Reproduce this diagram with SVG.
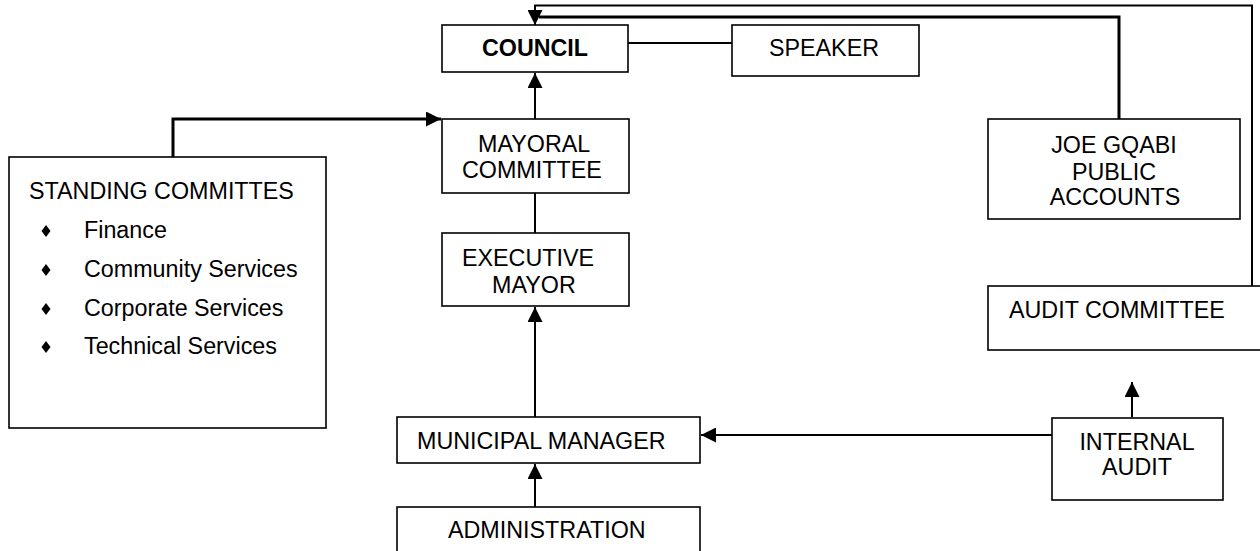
<svg xmlns="http://www.w3.org/2000/svg" width="1260" height="551" viewBox="0 0 1260 551">
<style>
.box{fill:#fff;stroke:#000;stroke-width:1.6}
text{font-family:"Liberation Sans",Arial,sans-serif;font-size:23.3px;fill:#000}
.c{text-anchor:middle}
.b{font-weight:bold}
.ln{fill:none;stroke:#000;stroke-width:2}
.thk{fill:none;stroke:#000;stroke-width:3}
</style>
<defs>
<marker id="ah" viewBox="0 0 15 15" refX="15" refY="7.5" markerWidth="15" markerHeight="15" markerUnits="userSpaceOnUse" orient="auto">
<path d="M0,0 L15,7.5 L0,15 z" fill="#000"/>
</marker>
</defs>
<rect width="1260" height="551" fill="#fff"/>
<g id="connectors">
<path class="ln" d="M1252,286 V5.5 H535 V25" marker-end="url(#ah)"/>
<path class="thk" d="M1119,119 V17 H539"/>
<line class="ln" x1="628" y1="43" x2="732" y2="43"/>
<line class="ln" x1="535" y1="119" x2="535" y2="73" marker-end="url(#ah)"/>
<path class="thk" d="M173,157 V119 H441" marker-end="url(#ah)"/>
<line class="ln" x1="535" y1="193" x2="535" y2="233"/>
<line class="ln" x1="535" y1="417" x2="535" y2="307" marker-end="url(#ah)"/>
<line class="ln" x1="535" y1="507" x2="535" y2="464" marker-end="url(#ah)"/>
<line class="ln" x1="1052" y1="435" x2="701" y2="435" marker-end="url(#ah)"/>
<line class="ln" x1="1132" y1="417" x2="1132" y2="382" marker-end="url(#ah)"/>
</g>
<g id="council">
<rect class="box" x="442" y="25" width="186" height="47"/>
<text class="c b" x="535" y="56">COUNCIL</text>
</g>
<g id="speaker">
<rect class="box" x="732" y="25" width="187" height="51"/>
<text class="c" x="824" y="56">SPEAKER</text>
</g>
<g id="mayoral-committee">
<rect class="box" x="442" y="119" width="187" height="74"/>
<text x="478" y="152">MAYORAL</text>
<text x="462" y="178">COMMITTEE</text>
</g>
<g id="executive-mayor">
<rect class="box" x="442" y="233" width="187" height="73"/>
<text x="462" y="266">EXECUTIVE</text>
<text x="492" y="293">MAYOR</text>
</g>
<g id="standing-committes">
<rect class="box" x="9" y="157" width="317" height="271"/>
<text x="29" y="199">STANDING COMMITTES</text>
<polygon points="46,225 50.5,231 46,237 41.5,231" fill="#000"/>
<text x="84" y="238">Finance</text>
<polygon points="46,264 50.5,270 46,276 41.5,270" fill="#000"/>
<text x="84" y="277">Community Services</text>
<polygon points="46,303 50.5,309 46,315 41.5,309" fill="#000"/>
<text x="84" y="316">Corporate Services</text>
<polygon points="46,341 50.5,347 46,353 41.5,347" fill="#000"/>
<text x="84" y="354">Technical Services</text>
</g>
<g id="municipal-manager">
<rect class="box" x="397" y="417" width="303" height="46"/>
<text x="417" y="449">MUNICIPAL MANAGER</text>
</g>
<g id="administration">
<rect class="box" x="397" y="507" width="303" height="60"/>
<text x="448" y="538">ADMINISTRATION</text>
</g>
<g id="joe-gqabi-public-accounts">
<rect class="box" x="988" y="119" width="252" height="100"/>
<text class="c" x="1114" y="153">JOE GQABI</text>
<text class="c" x="1114" y="180">PUBLIC</text>
<text class="c" x="1115" y="205">ACCOUNTS</text>
</g>
<g id="audit-committee">
<rect class="box" x="988" y="286" width="280" height="64"/>
<text x="1009" y="318">AUDIT COMMITTEE</text>
</g>
<g id="internal-audit">
<rect class="box" x="1052" y="418" width="171" height="82"/>
<text class="c" x="1137" y="450">INTERNAL</text>
<text class="c" x="1137" y="475">AUDIT</text>
</g>
</svg>
